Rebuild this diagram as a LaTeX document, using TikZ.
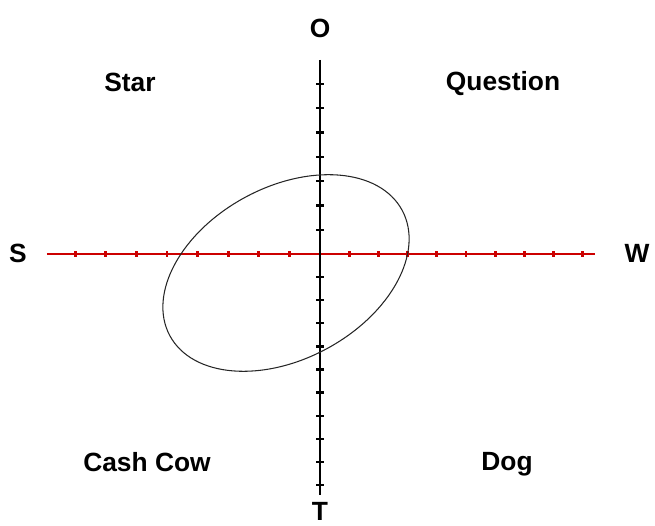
\documentclass[tikz,border=0pt]{standalone}
\usepackage{fontspec}
\setmainfont{Liberation Sans}
\usetikzlibrary{positioning}
\begin{document}
\begin{tikzpicture}[
    x=0.02cm, y=0.02cm,
    qlabel/.style={font=\fontsize{15}{18}\selectfont\bfseries, inner sep=0pt},
    vaxis/.style={line width=1.6pt, black},
    haxis/.style={line width=1.2pt, red!80!black},
    vtick/.style={line width=1.3pt, black},
    htick/.style={line width=1.5pt, red!80!black}
  ]
    \useasboundingbox (-320,-272) rectangle (335,254);

    \coordinate (top) at (0,194);
    \coordinate (bottom) at (0,-241);
    \coordinate (left) at (-273,0);
    \coordinate (right) at (275,0);

    \draw[haxis] (left) -- (right);
    \foreach \k in {1,...,8}
      \draw[htick] (-30.6*\k,-3) -- (-30.6*\k,3);
    \foreach \k in {1,...,9}
      \draw[htick] (29.2*\k,-3) -- (29.2*\k,3);

    \draw[vaxis] (top) -- (bottom);
    \foreach \k in {1,...,7}
      \draw[vtick] (-4,24.3*\k) -- (4,24.3*\k);
    \foreach \k in {1,...,10}
      \draw[vtick] (-4,-23.1*\k) -- (4,-23.1*\k);

    \draw[line width=0.6pt, black!85, rotate around={28.4:(-34,-19)}]
      (-34,-19) ellipse (132 and 86);

    \node[qlabel] (o) at (0,226) {O};
    \node[qlabel] (t) at (0,-257) {T};
    \node[qlabel] (s) at (-302,1) {S};
    \node[qlabel] (w) at (317,1) {W};

    \node[qlabel] (star) at (-190,172) {Star};
    \node[qlabel] (question) at (183,170) {Question};
    \node[qlabel] (cashcow) at (-173,-208) {Cash Cow};
    \node[qlabel] (dog) at (187,-210) {Dog};
\end{tikzpicture}
\end{document}
